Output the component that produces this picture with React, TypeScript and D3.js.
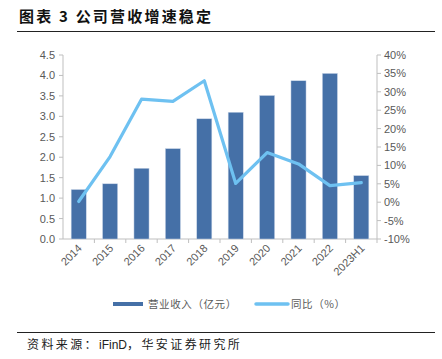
import React from "react";
import * as d3 from "d3";

const categories = ["2014", "2015", "2016", "2017", "2018", "2019", "2020", "2021", "2022", "2023H1"];
const revenue = [1.21, 1.35, 1.73, 2.21, 2.94, 3.1, 3.51, 3.87, 4.05, 1.55];
const growth = [0.2, 12.4, 28.0, 27.4, 33.0, 5.1, 13.5, 10.4, 4.5, 5.3];
const leftTicks = [0, 0.5, 1, 1.5, 2, 2.5, 3, 3.5, 4, 4.5];
const rightTicks = [-10, -5, 0, 5, 10, 15, 20, 25, 30, 35, 40];

const W = 442, H = 359;
const left = 63, right = 377, top = 55, bottom = 239;
const BAR = "#4570a7";
const LINE = "#6ec1f1";
const AXIS = "#bfbfbf";
const TXT = "#595959";
const sans = "'Liberation Sans', Arial, sans-serif";
const cjk = "'Noto Sans CJK SC', sans-serif";

export default function App() {
  const x = d3.scaleBand<string>().domain(categories).range([left, right]).paddingInner(0.52).paddingOuter(0.26);
  const band = d3.scaleBand<string>().domain(categories).range([left, right]);
  const yL = d3.scaleLinear().domain([0, 4.5]).range([bottom, top]);
  const yR = d3.scaleLinear().domain([-10, 40]).range([bottom, top]);
  const line = d3.line<number>()
    .x((_, i) => (band(categories[i]) as number) + band.bandwidth() / 2)
    .y((d) => yR(d));

  return (
    <svg width={W} height={H} style={{ position: "absolute", left: 0, top: 0, background: "#fff" }}>
      <text x={19} y={22} fontFamily={cjk} fontWeight="bold" fontSize={15} letterSpacing={2.2} fill="#111">图表 3 公司营收增速稳定</text>
      <line x1={17} x2={435} y1={31.5} y2={31.5} stroke="#222" strokeWidth={1} />

      {/* left axis */}
      <line x1={left} x2={left} y1={top} y2={bottom} stroke={AXIS} />
      {leftTicks.map((t) => (
        <g key={"l" + t}>
          <line x1={left - 4} x2={left} y1={yL(t)} y2={yL(t)} stroke={AXIS} />
          <text x={left - 8} y={yL(t) + 4} textAnchor="end" fontFamily={sans} fontSize={11} fill={TXT}>{t.toFixed(1)}</text>
        </g>
      ))}
      {/* right axis */}
      <line x1={right} x2={right} y1={top} y2={bottom} stroke={AXIS} />
      {rightTicks.map((t) => (
        <g key={"r" + t}>
          <line x1={right} x2={right + 4} y1={yR(t)} y2={yR(t)} stroke={AXIS} />
          <text x={right + 7} y={yR(t) + 4} textAnchor="start" fontFamily={sans} fontSize={11} fill={TXT}>{t + "%"}</text>
        </g>
      ))}
      {/* bottom axis */}
      <line x1={left} x2={right} y1={bottom} y2={bottom} stroke={AXIS} />
      {categories.map((c) => (
        <line key={"bt" + c} x1={(band(c) as number) + band.bandwidth()} x2={(band(c) as number) + band.bandwidth()} y1={bottom} y2={bottom + 4} stroke={AXIS} />
      ))}

      {/* bars */}
      {categories.map((c, i) => (
        <rect key={"b" + c} x={x(c)} y={yL(revenue[i])} width={x.bandwidth()} height={bottom - yL(revenue[i])} fill={BAR} stroke="#c9d6e8" strokeWidth={0.5} />
      ))}

      {/* line */}
      <path d={line(growth) || ""} fill="none" stroke={LINE} strokeWidth={3.2} strokeLinejoin="round" strokeLinecap="round" />

      {/* x labels */}
      {categories.map((c) => {
        const cx = (band(c) as number) + band.bandwidth() / 2 + 4;
        const cy = bottom + 10;
        return (
          <text key={"xl" + c} transform={`translate(${cx},${cy}) rotate(-45)`} textAnchor="end" fontFamily={sans} fontSize={11} fill={TXT}>{c}</text>
        );
      })}

      {/* legend */}
      <rect x={113} y={302} width={30} height={4} fill={BAR} />
      <text x={148} y={308} fontFamily={cjk} fontSize={10.5} letterSpacing={0.6} fill={TXT}>营业收入（亿元）</text>
      <line x1={256} x2={288} y1={304} y2={304} stroke={LINE} strokeWidth={3.5} strokeLinecap="round" />
      <text x={291} y={308} fontFamily={cjk} fontSize={10.5} letterSpacing={0.6} fill={TXT}>同比（%）</text>

      <line x1={17} x2={435} y1={332.5} y2={332.5} stroke="#222" strokeWidth={1} />
      <text x={27} y={349} fontFamily={cjk} fontSize={12} letterSpacing={2.4} fill="#222">资料来源：<tspan fontFamily={sans} letterSpacing={0}>iFinD</tspan>，华安证券研究所</text>
    </svg>
  );
}
